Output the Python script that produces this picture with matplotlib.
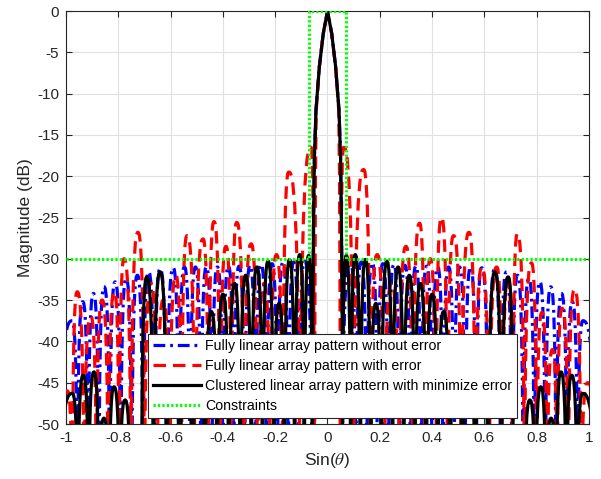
import matplotlib
matplotlib.use('Agg')
import matplotlib.pyplot as plt
from matplotlib.path import Path
from matplotlib.patches import PathPatch
from matplotlib.lines import Line2D

plt.rcParams['font.family'] = ['Liberation Sans', 'DejaVu Sans']
plt.rcParams['mathtext.fontset'] = 'stix'
plt.rcParams['axes.unicode_minus'] = False
plt.rcParams['lines.scale_dashes'] = False

# main beam, right half (sin(theta), dB); the left half is its mirror
main_u = [0.0, 0.016, 0.031, 0.044, 0.050, 0.053, 0.056, 0.058]
main_db = [0.0, -2.7, -6.7, -12.0, -17.6, -25.0, -35.0, -68.0]
red_main_u = [0.0, 0.016, 0.031, 0.043, 0.046, 0.048, 0.050]
red_main_db = [0.0, -2.7, -6.7, -12.0, -20.0, -35.0, -68.0]

# sidelobe peaks, fully linear array without error (symmetric)
blue_u = [0.088, 0.129, 0.171, 0.212, 0.254, 0.296, 0.338, 0.379, 0.421, 0.463, 0.505,
          0.547, 0.590, 0.640, 0.684, 0.727, 0.770, 0.812, 0.854, 0.895, 0.936, 0.977]
blue_db = [-30.3, -30.4, -30.5, -30.6, -30.7, -30.8, -30.9, -30.9, -31.0, -31.0, -31.0,
           -31.0, -31.1, -31.2, -31.6, -32.0, -32.4, -32.8, -33.4, -34.2, -35.2, -37.5]

# sidelobe peaks, clustered array (symmetric)
black_u = [0.072, 0.106, 0.145, 0.185, 0.227, 0.270, 0.313, 0.355, 0.400, 0.444, 0.492,
           0.541, 0.590, 0.640, 0.691, 0.732, 0.774, 0.816, 0.855, 0.893, 0.934, 0.976]
black_db = [-29.6, -29.5, -30.1, -35.4, -30.3, -31.0, -32.0, -33.0, -34.3, -36.4, -42.0,
            -43.0, -41.0, -31.6, -32.2, -50.5, -47.1, -45.5, -49.3, -43.7, -44.1, -46.3]

# sidelobe peaks, fully linear array with error
red_left_u = [-0.995, -0.957, -0.905, -0.862, -0.815, -0.778, -0.725, -0.675, -0.628, -0.580,
              -0.537, -0.476, -0.434, -0.388, -0.347, -0.292, -0.243, -0.195, -0.148, -0.063]
red_left_db = [-46.0, -34.0, -37.0, -35.0, -34.0, -30.0, -26.8, -33.0, -35.0, -32.0,
               -27.2, -27.6, -25.5, -28.5, -25.6, -28.2, -33.0, -29.5, -19.5, -16.5]
red_right_u = [0.062, 0.138, 0.190, 0.245, 0.300, 0.352, 0.393, 0.436, 0.482, 0.541,
               0.590, 0.647, 0.690, 0.726, 0.780, 0.820, 0.860, 0.897, 0.945, 0.995]
red_right_db = [-16.5, -19.2, -29.5, -33.0, -28.5, -25.7, -30.0, -25.0, -27.2, -26.8,
                -31.0, -31.0, -32.5, -27.0, -30.5, -36.5, -41.0, -36.0, -33.7, -45.0]

# constraint mask
cons_u = [-1, -0.072, -0.072, 0.072, 0.072, 1]
cons_db = [-30, -30, 0, 0, -30, -30]

xticks = [-1, -0.8, -0.6, -0.4, -0.2, 0, 0.2, 0.4, 0.6, 0.8, 1]
xticklabels = ['-1', '-0.8', '-0.6', '-0.4', '-0.2', '0', '0.2', '0.4', '0.6', '0.8', '1']
yticks = [0, -5, -10, -15, -20, -25, -30, -35, -40, -45, -50]

NULL_DB = -68.0


def mirror(u, db):
    return [-x for x in reversed(u)], list(reversed(db))


def pattern_path(left_u, left_db, mid_u, mid_db, right_u, right_db, edge=1.03, f=0.3):
    # each sidelobe is a pair of cubic arcs: null -> peak -> null
    verts = [(-edge, NULL_DB)]
    codes = [Path.MOVETO]

    def lobes(pu, pdb, first, last):
        nulls = [first] + [(p + q) / 2 for p, q in zip(pu[:-1], pu[1:])] + [last]
        for i, (p, lv) in enumerate(zip(pu, pdb)):
            a, b = nulls[i], nulls[i + 1]
            verts.extend([(a, lv), (p - f * (p - a), lv), (p, lv),
                          (p + f * (b - p), lv), (b, lv), (b, NULL_DB)])
            codes.extend([Path.CURVE4] * 6)

    lobes(left_u, left_db, -edge, mid_u[0])
    for x, y in zip(mid_u[1:], mid_db[1:]):
        verts.append((x, y))
        codes.append(Path.LINETO)
    lobes(right_u, right_db, mid_u[-1], edge)
    return Path(verts, codes)


def full_main(u, db):
    lu, ldb = mirror(u[1:], db[1:])
    return lu + u, ldb + db


fig = plt.figure(figsize=(6.01, 4.79), dpi=100)
ax = fig.add_axes([0.1098, 0.1148, 0.8702, 0.8622])

mu, mdb = full_main(main_u, main_db)
rmu, rmdb = full_main(red_main_u, red_main_db)

LW = 2.3
blue_ls = (0, (8.5, 3.5, 2.0, 3.5))
red_ls = (0, (9.0, 5.0))
green_ls = (0, (1.6, 1.6))

bl_u, bl_db = mirror(blue_u, blue_db)
ax.add_patch(PathPatch(pattern_path(bl_u, bl_db, mu, mdb, blue_u, blue_db),
                       fill=False, edgecolor='#0000ff', lw=LW, linestyle=blue_ls,
                       joinstyle='round', zorder=2))
ax.add_patch(PathPatch(pattern_path(red_left_u, red_left_db, rmu, rmdb, red_right_u, red_right_db),
                       fill=False, edgecolor='#ff0000', lw=LW, linestyle=red_ls,
                       joinstyle='round', zorder=3))
kl_u, kl_db = mirror(black_u, black_db)
ax.add_patch(PathPatch(pattern_path(kl_u, kl_db, mu, mdb, black_u, black_db),
                       fill=False, edgecolor='#000000', lw=LW, linestyle='-',
                       joinstyle='round', zorder=4))
ax.plot(cons_u, cons_db, color='#00ff00', lw=LW, linestyle=green_ls, zorder=5)

ax.set_xlim(-1, 1)
ax.set_ylim(-50, 0)
ax.set_xticks(xticks)
ax.set_xticklabels(xticklabels)
ax.set_yticks(yticks)
ax.tick_params(direction='in', length=4, width=0.8, top=True, right=True,
               labelsize=11, colors='#262626', pad=5)
ax.grid(True, color='#e0e0e0', lw=0.8)
ax.set_axisbelow(True)
for sp in ax.spines.values():
    sp.set_color('#262626')
    sp.set_linewidth(0.8)
ax.set_xlabel('Sin($\\theta$)', fontsize=12.5, color='#262626', labelpad=4)
ax.set_ylabel('Magnitude (dB)', fontsize=12.5, color='#262626', labelpad=3)

handles = [
    Line2D([], [], color='#0000ff', lw=LW, linestyle=blue_ls),
    Line2D([], [], color='#ff0000', lw=LW, linestyle=red_ls),
    Line2D([], [], color='#000000', lw=LW),
    Line2D([], [], color='#00ff00', lw=LW, linestyle=green_ls),
]
labels = ['Fully linear array pattern without error',
          'Fully linear array pattern with error',
          'Clustered linear array pattern with minimize error',
          'Constraints']
leg = ax.legend(handles, labels, loc='lower left', bbox_to_anchor=(0.157, 0.0145),
                borderaxespad=0, fontsize=10.2, handlelength=3.35, handletextpad=0.3,
                labelspacing=0.42, borderpad=0.35, fancybox=False, framealpha=1,
                edgecolor='#262626')
leg.get_frame().set_linewidth(0.8)
leg.set_zorder(10)

fig.savefig('out.png', dpi=100)
